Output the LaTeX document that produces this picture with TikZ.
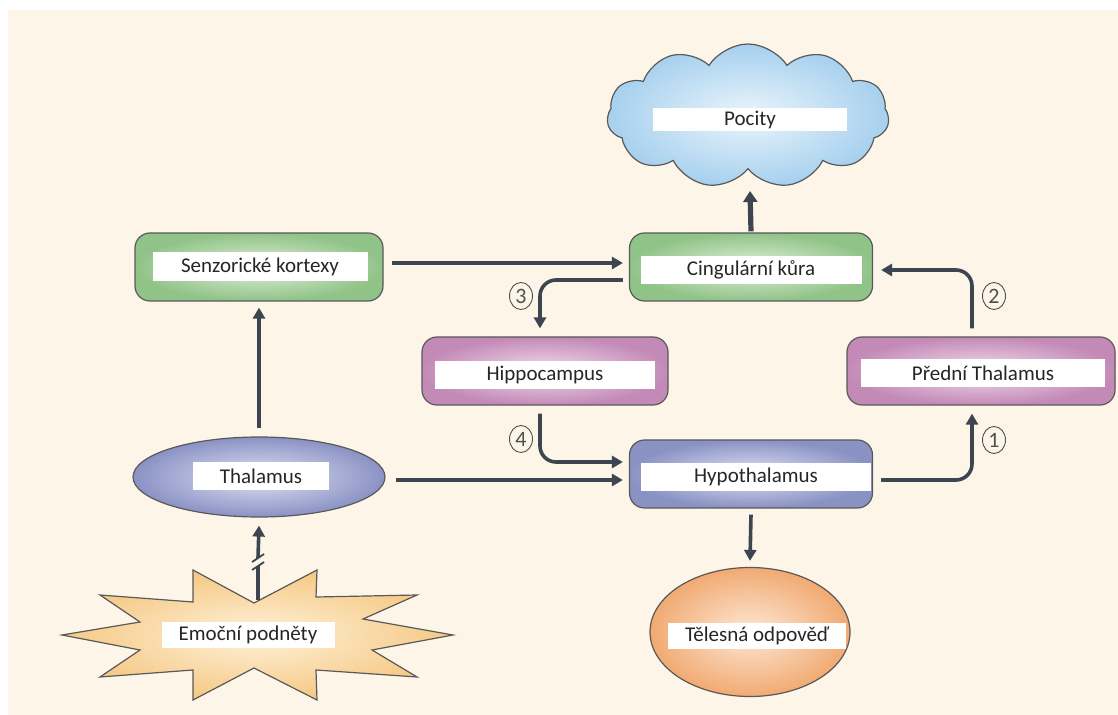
\documentclass[tikz,border=0pt]{standalone}
\usepackage{fontspec}
\setmainfont{Carlito}
\usetikzlibrary{shapes.geometric,shapes.symbols,arrows.meta,calc}
\definecolor{bg}{HTML}{FDF5E8}
\definecolor{arrc}{HTML}{3D4650}
\definecolor{txt}{HTML}{262626}
\definecolor{numc}{HTML}{505050}
\definecolor{gA}{HTML}{E2F0DA}
\definecolor{gB}{HTML}{90C388}
\definecolor{pA}{HTML}{F2DEEC}
\definecolor{pB}{HTML}{C38AB7}
\definecolor{bA}{HTML}{E0E3F4}
\definecolor{bB}{HTML}{8A92C4}
\definecolor{cA}{HTML}{EAF5FC}
\definecolor{cB}{HTML}{A6D0EE}
\definecolor{oA}{HTML}{FDE8D6}
\definecolor{oB}{HTML}{F1AA72}
\definecolor{sA}{HTML}{FFF2DA}
\definecolor{sB}{HTML}{F5C985}
\begin{document}
\begin{tikzpicture}[x=0.5pt,y=-0.5pt,
  box/.style={rounded corners=7.5pt, draw=black!65, line width=0.6pt, minimum height=34pt, inner sep=0pt},
  greenbox/.style={box, inner color=gA, outer color=gB},
  pinkbox/.style={box, inner color=pA, outer color=pB},
  bluebox/.style={box, inner color=bA, outer color=bB},
  lbl/.style={fill=white, inner sep=0pt, minimum height=14pt, font=\fontsize{10.5}{12}\selectfont, text=txt},
  arr/.style={draw=arrc, line width=1.8pt, -{Triangle[length=5.5pt,width=6pt]}},
  num/.style={ellipse, draw=numc, line width=0.45pt, inner sep=0pt, minimum width=11.5pt, minimum height=13.5pt, font=\fontsize{11}{11}\selectfont, text=numc}
]
\useasboundingbox (0,0) rectangle (1118,715);
\fill[white] (0,0) rectangle (1118,715);
\fill[bg] (8,10) rectangle (1118,715);

% cloud
\node[cloud, cloud puffs=11, cloud puff arc=115, aspect=2, draw=black!65, line width=0.6pt,
      inner color=cA, outer color=cB, minimum width=141pt, minimum height=72pt, inner sep=0pt] (pocity) at (748,116) {};
\node[lbl, minimum width=97pt, minimum height=11.5pt] (pocityL) at (750,120) {Pocity};
\coordinate (cloudbot) at (750,191);

% boxes
\node[greenbox, minimum width=124pt] (senz) at (259,267) {};
\node[lbl, minimum width=107.5pt, minimum height=14.5pt] (senzL) at (260,267) {Senzorické kortexy};
\node[greenbox, minimum width=121.5pt] (cing) at (751,267) {};
\node[lbl, minimum width=110.5pt] (cingL) at (751,270) {Cingulární kůra};
\node[pinkbox, minimum width=123pt] (hippo) at (545,371) {};
\node[lbl, minimum width=110pt] (hippoL) at (545,375) {Hippocampus};
\node[pinkbox, minimum width=134pt] (predni) at (981,371) {};
\node[lbl, minimum width=122pt] (predniL) at (983,373) {Přední Thalamus};
\node[bluebox, minimum width=121.5pt] (hypo) at (751,474) {};
\node[lbl, minimum width=115pt] (hypoL) at (756,477) {Hypothalamus};

% ellipses
\node[ellipse, draw=black!65, line width=0.6pt, inner color=bA, outer color=bB,
      minimum width=126pt, minimum height=40pt, inner sep=0pt] (thal) at (259,477) {};
\node[lbl, minimum width=68pt] (thalL) at (261,476) {Thalamus};
\node[ellipse, draw=black!65, line width=0.6pt, inner color=oA, outer color=oB,
      minimum width=100pt, minimum height=64.5pt, inner sep=0pt] (tel) at (750,632) {};
\node[lbl, minimum width=89pt, minimum height=13pt] (telL) at (757,636) {Tělesná odpověď};

% star
\path[draw=black!65, line width=0.6pt, inner color=sA, outer color=sB]
  (193,570) -- (254,603) -- (317,570) -- (316,597) -- (417,595) -- (363,619) -- (453,635)
  -- (372,650) -- (417,677) -- (316,670) -- (317,700) -- (254,668) -- (193,700)
  -- (193,670) -- (100,677) -- (140,650) -- (62,635) -- (140,622) -- (100,595)
  -- (193,602) -- cycle;
\coordinate (startop) at (258,600);
\coordinate (brk) at (258,562);
\node[lbl, minimum width=86.5pt, minimum height=13pt] (emoL) at (248,635) {Emoční podněty};

% connectors
\draw[arr] ([xshift=4pt,yshift=2pt]senz.east) -- ([xshift=-3pt,yshift=2pt]cing.west);
\draw[arr, rounded corners=8pt] ([xshift=-3pt,yshift=-6.5pt]cing.west) -| ([xshift=-2.5pt,yshift=4pt]hippo.north);
\draw[arr, rounded corners=8pt] ([xshift=-2.5pt,yshift=-4pt]hippo.south) |- ([xshift=-3pt,yshift=6pt]hypo.west);
\draw[arr] ([xshift=5pt,yshift=-1.5pt]thal.east) -- ([xshift=-3pt,yshift=-3pt]hypo.west);
\draw[arr, rounded corners=8pt] ([xshift=4pt,yshift=-3pt]hypo.east) -| ([xshift=-4.5pt,yshift=-4pt]predni.south);
\draw[arr, rounded corners=8pt] ([xshift=-4.5pt,yshift=4pt]predni.north) |- ([xshift=4pt,yshift=-1.5pt]cing.east);
\draw[arr] ([yshift=4pt]thal.north) -- ([yshift=-3pt]senz.south);
\draw[arr] ([yshift=-3pt]hypo.south) -- ([yshift=3pt]tel.north);
\draw[draw=arrc, line width=2.6pt, -{Triangle[length=5.5pt,width=7pt]}] ([yshift=0.5pt]cing.north) -- (cloudbot);
\draw[draw=arrc, line width=1.8pt] (startop) -- ([yshift=-2pt]brk);
\draw[arr] ([yshift=2pt]brk) -- ([yshift=-4pt]thal.south);
\draw[draw=arrc, line width=0.9pt] ([shift={(-3pt,-4pt)}]brk) -- ([shift={(3pt,0pt)}]brk);
\draw[draw=arrc, line width=0.9pt] ([shift={(-3pt,0pt)}]brk) -- ([shift={(3pt,4pt)}]brk);

% numbers
\node[num] (n3) at (521,296) {3};
\node[num] (n4) at (521,439) {4};
\node[num] (n1) at (994,440) {1};
\node[num] (n2) at (994,296) {2};
\end{tikzpicture}
\end{document}
